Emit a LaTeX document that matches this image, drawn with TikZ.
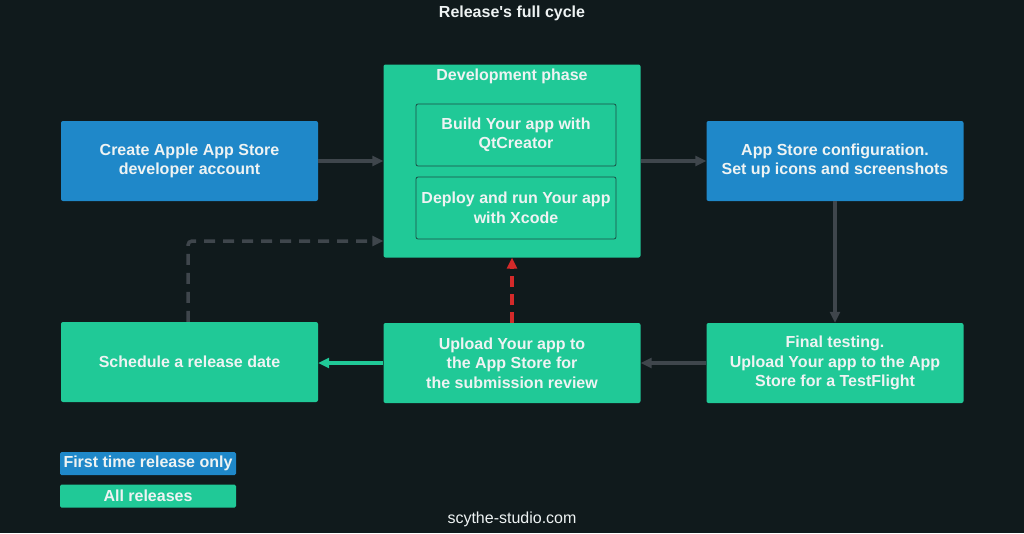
\documentclass[tikz,border=0pt]{standalone}
\usepackage{fontspec}
\setmainfont{Liberation Sans}
\usetikzlibrary{arrows.meta}
\definecolor{bg}{HTML}{101A1C}
\definecolor{bluebox}{HTML}{1F88C9}
\definecolor{greenbox}{HTML}{20C997}
\definecolor{txt}{HTML}{EEF3F3}
\definecolor{arrowgray}{HTML}{3F464C}
\definecolor{redarrow}{HTML}{D42A2A}
\definecolor{innerline}{HTML}{1D4F45}
\tikzset{
  x=1pt, y=-1pt,
  boxbase/.style={rounded corners=2pt, text=txt, font=\bfseries\fontsize{16}{19.5}\selectfont, align=center, inner sep=0pt},
  bluenode/.style={boxbase, fill=bluebox, minimum width=257pt, minimum height=80pt},
  greennode/.style={boxbase, fill=greenbox, minimum width=257pt, minimum height=80pt},
  innernode/.style={boxbase, fill=greenbox, draw=innerline, line width=0.8pt, minimum width=200pt, minimum height=62pt},
  conn/.style={draw=arrowgray, line width=3.5pt, -{Triangle[length=11pt,width=10pt]}},
  legendnode/.style={rounded corners=1.5pt, text=txt, font=\bfseries\fontsize{16}{18}\selectfont, inner sep=0pt, minimum width=176pt, minimum height=23pt},
}
\begin{document}
\begin{tikzpicture}
\fill[bg] (0,0) rectangle (1024,533);
\useasboundingbox (0,0) rectangle (1024,533);

\node[text=txt, font=\bfseries\fontsize{16}{18}\selectfont] (title) at (512,13) {Release\textquotesingle s full cycle};

\node[bluenode] (create) at (189.5,161) {Create Apple App Store\\developer account};
\node[greennode, minimum height=193pt] (dev) at (512,161) {};
\node[text=txt, font=\bfseries\fontsize{16}{18}\selectfont, anchor=north] (devlabel) at (512,65) {Development phase};
\node[innernode] (build) at (516,135) {Build Your app with\\QtCreator};
\node[innernode] (deploy) at (516,208) {Deploy and run Your app\\with Xcode};
\node[bluenode] (config) at (835,161) {App Store configuration.\\Set up icons and screenshots};
\node[greennode] (final) at (835,363) {Final testing.\\Upload Your app to the App\\Store for a TestFlight};
\node[greennode] (upload) at (512,363) {Upload Your app to\\the App Store for\\the submission review};
\node[greennode] (schedule) at (189.5,362) {Schedule a release date};

\node[legendnode, fill=bluebox] (legblue) at (148,463.5) {First time release only};
\node[legendnode, fill=greenbox] (leggreen) at (148,496) {All releases};

\node[text=txt, font=\fontsize{16}{18}\selectfont] (footer) at (512,519) {scythe-studio.com};

\draw[conn] (create.east) -- (dev.west |- create.east);
\draw[conn] (dev.east |- config.west) -- (config.west);
\draw[conn] (config.south) -- (final.north);
\draw[conn] (final.west) -- (upload.east);
\draw[conn, draw=greenbox] (upload.west) -- (schedule.east |- upload.west);
\draw[conn, draw=redarrow, dash pattern=on 11pt off 7pt] (upload.north) -- (dev.south);
\coordinate (bend) at (188,241);
\draw[conn, dash pattern=on 11pt off 8pt, rounded corners=4pt] (schedule.north -| bend) -- (bend) -- (dev.west |- bend);
\end{tikzpicture}
\end{document}
